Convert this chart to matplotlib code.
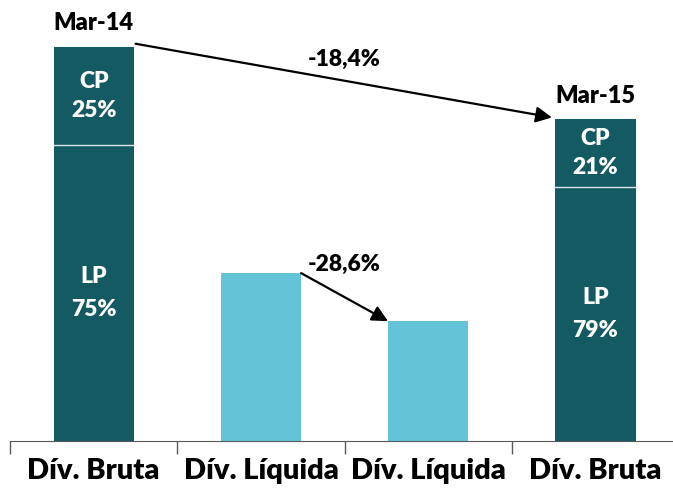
import matplotlib.pyplot as plt

categories = ["Dív. Bruta", "Dív. Líquida", "Dív. Líquida", "Dív. Bruta"]
totals = [100.0, 42.6, 30.4, 81.6]
lp_share = [0.75, None, None, 0.79]
cp_share = [0.25, None, None, 0.21]
period_labels = ["Mar-14", None, None, "Mar-15"]
change_gross = "-18,4%"
change_net = "-28,6%"

dark = "#145a63"
light = "#63c3d7"
font = ["Lato", "DejaVu Sans"]

fig = plt.figure(figsize=(6.73, 4.88), dpi=100)
ax = fig.add_axes([0.015, 0.0963, 0.994, 0.9037])

x = list(range(len(categories)))
w = 0.48
for i, tot in enumerate(totals):
    if lp_share[i] is None:
        ax.bar(i, tot, width=w, color=light, zorder=2)
        continue
    lp = tot * lp_share[i]
    ax.bar(i, lp, width=w, color=dark, zorder=2)
    ax.bar(i, tot - lp, bottom=lp, width=w, color=dark, edgecolor="none", zorder=2)
    ax.plot([i - w / 2, i + w / 2], [lp, lp], color="#d9e6e8", lw=1, zorder=3)
    ax.text(i, lp + (tot - lp) / 2, f"CP\n{cp_share[i] * 100:.0f}%", color="white",
            ha="center", va="center", fontsize=16.5, fontweight="heavy", family=font,
            linespacing=1.5, zorder=4)
    ax.text(i, lp / 2, f"LP\n{lp_share[i] * 100:.0f}%", color="white",
            ha="center", va="center", fontsize=16.5, fontweight="heavy", family=font,
            linespacing=1.7, zorder=4)
    ax.text(i, tot + 3.2, period_labels[i], ha="center", va="bottom",
            fontsize=17, fontweight="heavy", family=font)

# arrows
arrow = dict(arrowstyle="-|>", color="black", lw=1.6, mutation_scale=24, shrinkA=0, shrinkB=0)
ax.annotate("", xy=(3 - w / 2 - 0.02, totals[3] + 0.5), xytext=(w / 2 + 0.01, totals[0] + 0.8),
            arrowprops=arrow, zorder=5)
ax.annotate("", xy=(2 - w / 2, totals[2]), xytext=(1 + w / 2, totals[1]),
            arrowprops=arrow, zorder=5)
ax.text(1.5, 96.7, change_gross, ha="center", va="center", fontsize=16.5,
        fontweight="heavy", family=font)
ax.text(1.5, 44.7, change_net, ha="center", va="center", fontsize=16.5,
        fontweight="heavy", family=font)

ax.set_xlim(-0.5, 3.5)
ax.set_ylim(0, 111.9)
ax.set_xticks([-0.5, 0.5, 1.5, 2.5, 3.5])
ax.set_xticklabels([])
ax.set_xticks(x, minor=True)
ax.set_xticklabels(categories, minor=True, fontsize=21, fontweight="heavy", family=font)
ax.tick_params(axis="x", which="major", length=9, width=1, color="#595959", direction="out")
ax.tick_params(axis="x", which="minor", length=0, pad=12)
ax.set_yticks([])
for s in ["top", "left", "right"]:
    ax.spines[s].set_visible(False)
ax.spines["bottom"].set_color("#595959")
ax.spines["bottom"].set_zorder(6)

fig.savefig("out.png", dpi=100)
